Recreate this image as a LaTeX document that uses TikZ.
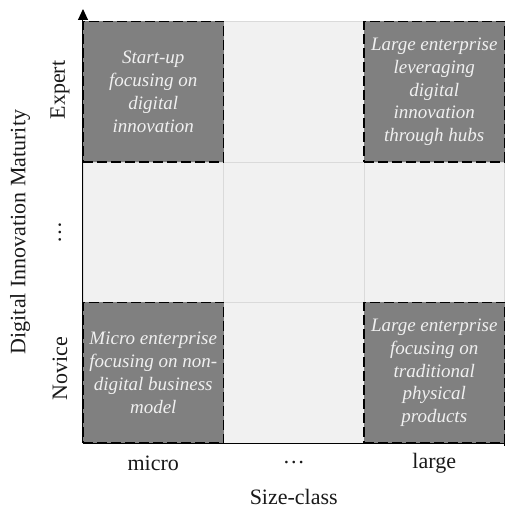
\documentclass[tikz,border=0pt]{standalone}
\usepackage{fontspec}
\setmainfont{Liberation Serif}
\usetikzlibrary{arrows.meta}

\definecolor{cellbg}{HTML}{F1F1F1}
\definecolor{gridgray}{HTML}{DADADA}
\definecolor{boxgray}{HTML}{808080}
\definecolor{boxtext}{HTML}{F0F0F0}

\tikzset{
  quadrant/.style={draw=black, fill=boxgray, line width=1.5pt,
    dash pattern=on 10pt off 4pt, minimum width=140.5pt,
    minimum height=140.5pt, inner sep=0pt, align=center,
    text=boxtext, font=\fontsize{19}{22.8}\selectfont\itshape},
  axislabel/.style={font=\fontsize{22}{26}\selectfont, text=black!90}
}

\begin{document}
\begin{tikzpicture}[x=1pt,y=1pt]
  \useasboundingbox (-83,-66) rectangle (424,443);

  % Background cells and grid
  \fill[cellbg] (0,0) rectangle (421.5,421.5);
  \draw[gridgray, line width=0.6pt] (0,0) grid[step=140.5pt] (421.5,421.5);

  % Axes
  \coordinate (origin) at (0,0);
  \coordinate (ytip) at (0,434);
  \coordinate (xend) at (421.5,0);
  \draw[line width=1pt, -{Triangle[width=10pt,length=11pt]}] (origin) -- (ytip);
  \draw[line width=0.8pt, -{Bar[width=6pt]}] (origin) -- (xend);

  % Quadrants
  \node[quadrant] (startup) at (70.25,351.25) {Start-up\\focusing on\\digital\\innovation};
  \node[quadrant] (hubs) at (351.25,351.25) {Large enterprise\\leveraging\\digital\\innovation\\through hubs};
  \node[quadrant] (micro) at (70.25,70.25) {Micro enterprise\\focusing on non-\\digital business\\model};
  \node[quadrant] (physical) at (351.25,70.25) {Large enterprise\\focusing on\\traditional\\physical\\products};

  % Tick labels
  \node[axislabel, rotate=90] (expert) at (-23,353) {Expert};
  \node[axislabel, rotate=90] (ymid) at (-23,210.75) {\ldots};
  \node[axislabel, rotate=90] (novice) at (-23,74) {Novice};
  \node[axislabel] (small) at (70.25,-20) {micro};
  \node[axislabel] (xmid) at (210.75,-20) {\ldots};
  \node[axislabel] (large) at (351.25,-20) {large};

  % Axis titles
  \node[axislabel, rotate=90] (ytitle) at (-63,211) {Digital Innovation Maturity};
  \node[axislabel] (xtitle) at (210.75,-54) {Size-class};
\end{tikzpicture}
\end{document}
